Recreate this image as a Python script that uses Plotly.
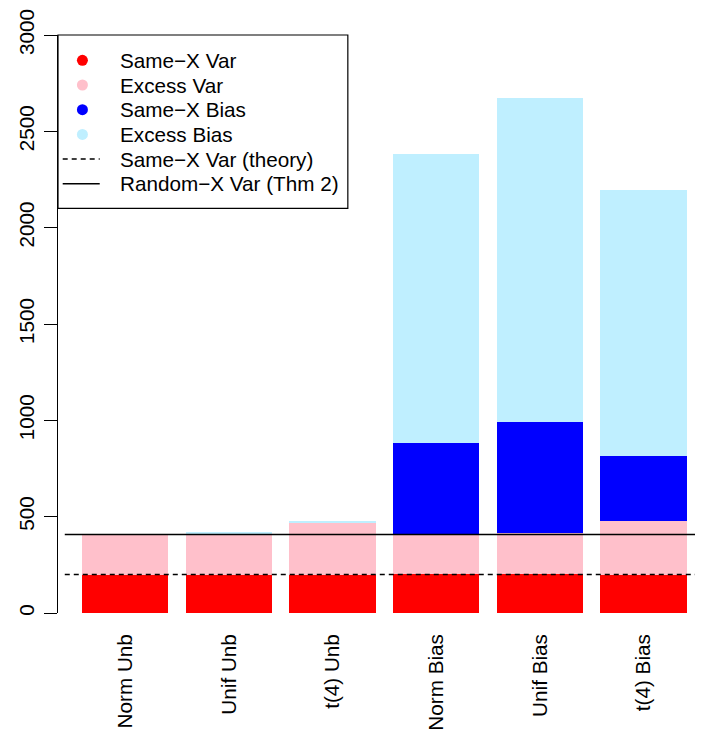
import plotly.graph_objects as go

# ---- data ----
categories = ["Norm Unb", "Unif Unb", "t(4) Unb", "Norm Bias", "Unif Bias", "t(4) Bias"]
same_x_var = [197, 197, 197, 201, 201, 197]
excess_var = [209, 217, 274, 206, 213, 280]
same_x_bias = [0, 0, 0, 474, 576, 336]
excess_bias = [1, 5, 5, 1499, 1681, 1380]
same_x_var_theory = 200
random_x_var_thm2 = 408
y_ticks = [0, 500, 1000, 1500, 2000, 2500, 3000]

legend_labels = ["Same−X Var", "Excess Var", "Same−X Bias", "Excess Bias",
                 "Same−X Var (theory)", "Random−X Var (Thm 2)"]
colors = ["#FF0000", "#FFC0CB", "#0000FF", "#BFEFFF"]

FONT = "Liberation Sans, Arial, Helvetica, sans-serif"
FS = 20.7
OFF = 8  # page body margin in the browser
WIN_W, WIN_H = 703, 731
W, H = WIN_W, WIN_H
# plot area in window pixels
PLOT_L, PLOT_R, PLOT_T, PLOT_B = 58.3, 703, 34.7, 612.7
L = PLOT_L - OFF
T = PLOT_T - OFF
R = W - (PLOT_R - OFF)
B = H - (PLOT_B - OFF)
PW, PH = W - L - R, H - T - B

xpos = list(range(len(categories)))
step_px = 103.6
x0 = -(125.5 - PLOT_L) / step_px
x1 = x0 + PW / step_px

fig = go.Figure()
for vals, col, name in zip([same_x_var, excess_var, same_x_bias, excess_bias], colors, legend_labels[:4]):
    fig.add_trace(go.Bar(x=xpos, y=vals, width=1 / 1.2, marker=dict(color=col, line=dict(width=0)),
                         name=name, showlegend=False))

shapes = []
line_start = -(0.2 + 0.5) / 1.2  # x = 0 in R barplot units
shapes.append(dict(type="line", xref="x", yref="y", x0=line_start, x1=x1, y0=same_x_var_theory,
                   y1=same_x_var_theory, line=dict(color="black", width=1.5, dash="5px,4px"), layer="above"))
shapes.append(dict(type="line", xref="x", yref="y", x0=line_start, x1=x1, y0=random_x_var_thm2,
                   y1=random_x_var_thm2, line=dict(color="black", width=1.5), layer="above"))

# ---- legend (drawn manually to mimic R's legend box) ----
def px2x(px):
    return (px - PLOT_L) / PW

def py2y(py):
    return (PLOT_B - py) / PH

shapes.append(dict(type="rect", xref="paper", yref="paper", x0=px2x(PLOT_L), x1=px2x(348), y0=py2y(208),
                   y1=py2y(PLOT_T), line=dict(color="black", width=1.2), fillcolor="white", layer="above"))
annotations = []
row_y = [60 + 24.7 * i for i in range(6)]
r = 5.5
for i, lab in enumerate(legend_labels):
    cy = row_y[i]
    if i < 4:
        shapes.append(dict(type="circle", xref="paper", yref="paper",
                           x0=px2x(82.7 - r), x1=px2x(82.7 + r), y0=py2y(cy + r), y1=py2y(cy - r),
                           fillcolor=colors[i], line=dict(width=0), layer="above"))
    else:
        shapes.append(dict(type="line", xref="paper", yref="paper", x0=px2x(63), x1=px2x(100),
                           y0=py2y(cy), y1=py2y(cy),
                           line=dict(color="black", width=1.5, dash="5px,4px" if i == 4 else "solid"),
                           layer="above"))
    annotations.append(dict(xref="paper", yref="paper", x=px2x(118), y=py2y(cy), text=lab, showarrow=False,
                            xanchor="left", yanchor="middle", font=dict(family=FONT, size=FS, color="black")))

fig.update_layout(
    width=W, height=H,
    margin=dict(l=L, r=R, t=T, b=B, pad=0),
    paper_bgcolor="white", plot_bgcolor="white",
    barmode="stack", bargap=0,
    showlegend=False,
    font=dict(family=FONT, size=FS, color="black"),
    shapes=shapes, annotations=annotations,
    xaxis=dict(range=[x0, x1], tickmode="array", tickvals=xpos, ticktext=categories, tickangle=-90,
               showgrid=False, zeroline=False, showline=False, ticks="", automargin=False,
               ticklabelstandoff=16, tickfont=dict(family=FONT, size=FS, color="black")),
    yaxis=dict(range=[0, 3000], tickmode="array", tickvals=y_ticks, ticktext=[str(v) for v in y_ticks],
               tickangle=-90, showgrid=False, zeroline=False, showline=True, linecolor="black", linewidth=1.3,
               ticks="outside", ticklen=13, tickwidth=1.3, tickcolor="black", automargin=False,
               ticklabelstandoff=2, tickfont=dict(family=FONT, size=FS, color="black")),
)

fig.write_html("out.html")
